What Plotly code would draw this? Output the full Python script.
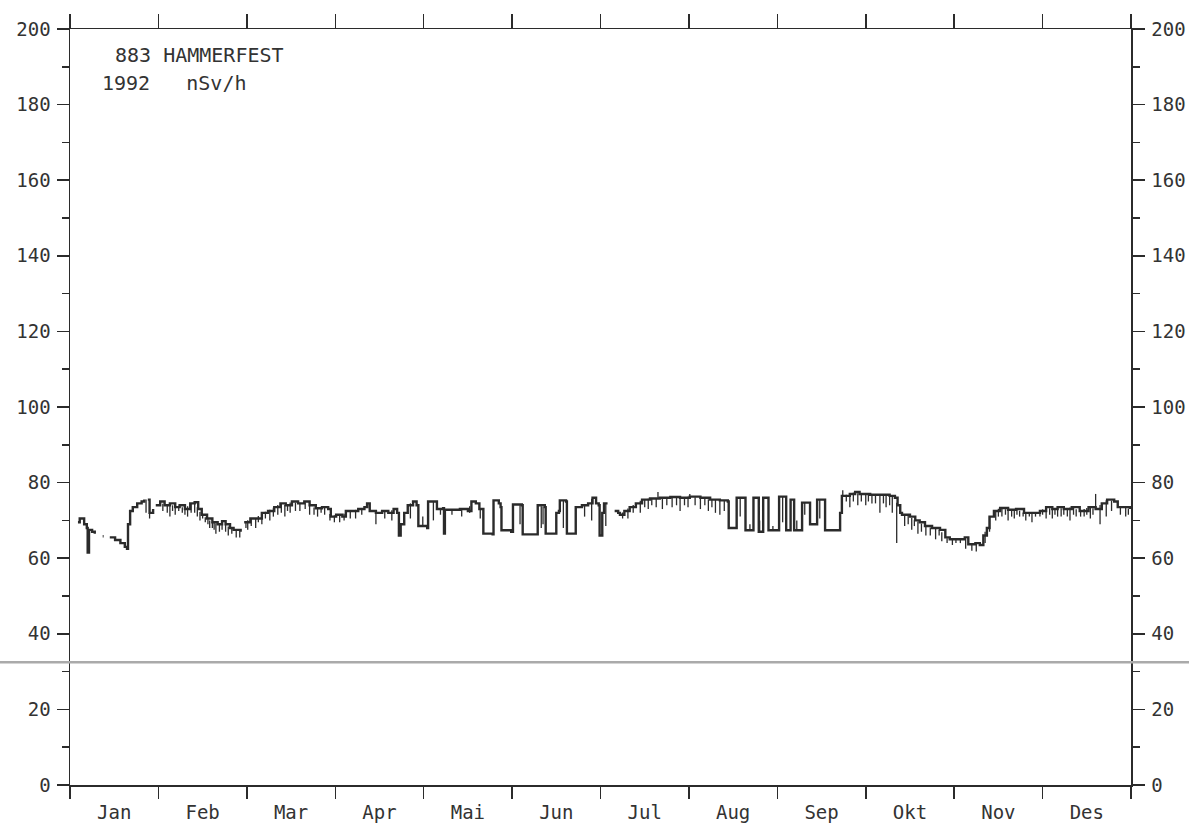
import numpy as np
import plotly.graph_objects as go

# ---- data (x = months since 1 Jan, y = nSv/h) ----
months = ["Jan", "Feb", "Mar", "Apr", "Mai", "Jun", "Jul", "Aug", "Sep", "Okt", "Nov", "Des"]

t_main = [0.09, 0.11, 0.16, 0.19, 0.20, 0.215, 0.25, 0.28, None, 0.37, 0.38, None,
          0.45, 0.51, 0.57, 0.62, 0.645, 0.656, 0.68, 0.71, 0.76, 0.81, 0.84, None,
          0.88, 0.90, 0.94, None, 0.97, 1.02, 1.07, 1.13, 1.19, 1.24, 1.30, 1.36, 1.41,
          1.45, 1.49, 1.55, 1.61, 1.67, 1.72, 1.76, 1.81, 1.85, 1.90, 1.93, None,
          1.97, 2.04, 2.10, 2.17, 2.24, 2.31, 2.38, 2.44, 2.51, 2.58, 2.65, 2.71, 2.78,
          2.85, 2.92, 2.95, 3.01, 3.08, 3.12, 3.19, 3.26, 3.33, 3.36, 3.39, 3.46, 3.53,
          3.60, 3.66, 3.70, 3.72, 3.74, 3.78, 3.82, 3.88, 3.92, 3.94, 4.04, 4.05, 4.14,
          4.15, 4.22, 4.23, 4.24, 4.32, 4.41, 4.50, 4.54, 4.59, 4.63, 4.67, 4.675, 4.78,
          4.79, 4.85, 4.87, 4.88, 4.99, 5.01, 5.11, 5.12, 5.28, 5.29, 5.37, 5.38, 5.49,
          5.50, 5.53, 5.54, 5.61, 5.62, 5.71, 5.72, 5.79, 5.86, 5.91, 5.95, 5.98, 5.99,
          6.02, 6.04, 6.08, None, 6.16, 6.20, 6.22, 6.27, 6.33, 6.40, 6.47, 6.56, 6.67,
          6.79, 6.90, 7.01, 7.13, 7.24, 7.35, 7.44, 7.45, 7.53, 7.54, 7.63, 7.64, 7.72,
          7.73, 7.78, 7.79, 7.83, 7.84, 7.89, 7.90, 8.00, 8.02, 8.09, 8.10, 8.14, 8.15,
          8.18, 8.19, 8.27, 8.28, 8.36, 8.37, 8.44, 8.45, 8.53, 8.54, 8.69, 8.71, 8.73,
          8.82, 8.88, 8.93, 9.05, 9.16, 9.27, 9.33, 9.36, 9.39, 9.41, 9.46, 9.50, 9.56,
          9.61, 9.67, 9.75, 9.84, 9.90, 9.95, 10.04, 10.12, 10.16, 10.24, 10.29, 10.33,
          10.37, 10.40, 10.45, 10.52, 10.61, 10.70, 10.79, 10.88, 10.97, 11.04, 11.11,
          11.17, 11.24, 11.33, 11.42, 11.52, 11.60, 11.67, 11.73, 11.81, 11.85, 11.92, 11.99]

v_main = [69.5, 70.5, 69.0, 68.0, 61.5, 67.5, 67.0, 66.5, None, 65.8, 65.8, None,
          65.5, 64.8, 64.0, 63.0, 62.5, 69.0, 72.5, 73.5, 74.5, 75.0, 75.5, None,
          75.5, 72.0, 73.0, None, 74.0, 75.0, 74.0, 74.5, 73.5, 74.0, 73.0, 74.5, 74.8,
          73.0, 71.5, 70.5, 69.5, 69.0, 69.8, 69.0, 68.0, 67.5, 67.5, 67.0, None,
          69.5, 70.5, 70.5, 72.0, 72.5, 73.5, 74.5, 74.0, 75.0, 74.5, 75.0, 74.0, 73.2,
          73.5, 73.0, 71.0, 71.5, 71.0, 72.5, 72.5, 73.0, 73.5, 74.5, 72.5, 72.0, 72.5,
          72.0, 73.0, 72.0, 66.0, 69.0, 72.0, 74.0, 75.0, 74.0, 68.5, 68.0, 75.0, 75.0,
          73.0, 73.2, 66.5, 72.8, 72.8, 73.0, 72.5, 75.0, 74.5, 73.0, 73.0, 66.5, 66.3,
          75.3, 74.5, 73.5, 67.4, 67.0, 74.2, 74.0, 66.3, 66.3, 74.0, 73.5, 66.5, 66.5,
          72.0, 72.5, 75.3, 75.0, 66.5, 66.5, 73.5, 74.0, 74.5, 76.0, 74.5, 74.0, 66.0,
          72.0, 74.5, 74.5, None, 72.5, 72.0, 71.5, 72.5, 73.5, 74.5, 75.5, 75.8, 76.0,
          76.2, 76.0, 76.3, 76.0, 75.5, 75.3, 75.0, 68.0, 68.0, 76.0, 76.0, 67.4, 67.4,
          76.0, 76.0, 67.0, 67.0, 76.0, 76.0, 67.4, 67.4, 76.3, 76.3, 67.4, 67.4, 75.5,
          75.5, 67.4, 67.4, 74.7, 74.7, 69.0, 69.0, 75.5, 75.5, 67.4, 67.4, 72.0, 76.5,
          77.0, 77.5, 77.0, 76.8, 76.8, 76.5, 76.0, 74.0, 72.0, 71.5, 71.5, 71.0, 70.0,
          69.5, 68.5, 68.0, 67.5, 65.5, 65.0, 65.0, 65.5, 63.7, 64.0, 63.5, 66.0,
          68.0, 71.0, 72.5, 73.3, 72.8, 73.0, 72.0, 72.0, 72.5, 73.5, 73.0,
          73.5, 73.0, 73.5, 72.5, 73.5, 73.0, 74.5, 75.5, 75.0, 73.5, 73.5, 73.0]

# short hourly excursions (position, extreme value reached)
spike_t = [0.86, 0.90, 1.05, 1.10, 1.13, 1.16, 1.19, 1.23, 1.27, 1.30, 1.33, 1.37, 1.41,
           1.44, 1.47, 1.50, 1.53, 1.56, 1.58, 1.61, 1.63, 1.65, 1.69, 1.72, 1.76, 1.79,
           1.83, 1.88, 1.92, 1.99, 2.01, 2.05, 2.10, 2.13, 2.17, 2.21, 2.26, 2.30, 2.35,
           2.39, 2.43, 2.46, 2.49, 2.55, 2.60, 2.66, 2.71, 2.76, 2.80, 2.84, 2.88, 2.94,
           2.99, 3.05, 3.10, 3.17, 3.23, 3.30, 3.46, 3.56, 3.64, 3.85, 3.99, 4.11, 4.19,
           4.32, 4.43, 4.52, 4.64, 5.09, 5.33, 5.35, 5.58, 5.82, 5.90, 6.06, 6.25, 6.31,
           6.37, 6.45, 6.50, 6.54, 6.58, 6.63, 6.65, 6.70, 6.75, 6.81, 6.86, 6.90, 6.95,
           6.99, 7.01, 7.07, 7.13, 7.18, 7.22, 7.26, 7.30, 7.35, 7.40, 7.58, 7.69, 7.80,
           7.95, 8.06, 8.22, 8.31, 8.48, 8.74, 8.78, 8.82, 8.86, 8.91, 8.95, 9.00, 9.03,
           9.07, 9.11, 9.16, 9.20, 9.23, 9.27, 9.30, 9.35, 9.44, 9.48, 9.52, 9.55, 9.59,
           9.63, 9.68, 9.73, 9.79, 9.83, 9.86, 9.92, 9.98, 10.02, 10.07, 10.13, 10.20,
           10.25, 10.35, 10.40, 10.47, 10.50, 10.54, 10.58, 10.61, 10.65, 10.68, 10.71,
           10.74, 10.78, 10.81, 10.85, 10.88, 10.92, 10.97, 11.00, 11.04, 11.08, 11.11,
           11.14, 11.17, 11.21, 11.24, 11.28, 11.31, 11.35, 11.38, 11.43, 11.47, 11.50,
           11.54, 11.57, 11.60, 11.65, 11.72, 11.78, 11.88, 11.94, 11.97]
spike_v = [72.0, 70.5, 72.5, 72.0, 71.0, 72.5, 71.5, 72.5, 72.0, 71.5, 71.0, 72.0, 72.0,
           71.0, 70.0, 70.5, 69.5, 69.0, 68.0, 68.0, 67.5, 66.5, 67.0, 67.5, 67.0, 66.0,
           66.5, 65.5, 65.5, 68.0, 67.5, 68.5, 68.0, 69.5, 69.0, 70.5, 70.0, 71.0, 71.5,
           72.0, 71.0, 72.5, 72.0, 72.5, 72.5, 73.0, 71.5, 71.5, 71.0, 72.0, 71.5, 70.0,
           69.5, 69.5, 70.0, 70.5, 70.5, 71.5, 69.0, 70.5, 70.0, 70.5, 71.0, 70.0, 71.5,
           71.5, 71.0, 72.0, 70.5, 69.0, 68.0, 69.0, 68.0, 71.0, 70.0, 68.5, 70.5, 70.5,
           72.0, 72.0, 73.5, 73.0, 74.0, 73.5, 77.5, 73.0, 74.0, 73.5, 74.0, 72.5, 74.0,
           73.5, 77.0, 74.0, 73.0, 74.0, 72.5, 73.5, 72.0, 71.5, 72.5, 71.0, 69.0, 70.0,
           68.5, 69.5, 70.0, 71.5, 70.5, 78.0, 75.0, 73.5, 75.0, 74.0, 75.0, 74.0, 75.0,
           74.5, 74.5, 72.0, 74.5, 73.5, 74.0, 72.0, 64.0, 68.5, 69.0, 67.5, 68.5, 66.5,
           67.0, 66.0, 66.0, 65.0, 66.0, 64.5, 64.0, 63.5, 64.0, 64.0, 62.5, 62.0,
           61.8, 64.0, 67.0, 70.0, 71.0, 71.0, 71.5, 70.0, 71.0, 70.5, 71.5,
           71.0, 71.0, 70.0, 71.0, 69.5, 71.0, 71.0, 71.5, 70.5, 71.5, 70.5,
           71.5, 71.0, 71.0, 71.5, 71.0, 70.0, 71.5, 71.0, 71.0, 71.0, 71.5,
           70.5, 71.5, 77.0, 69.0, 71.0, 72.5, 71.5, 71.0, 71.5]

ref_level = 32.5  # grey horizontal rule across the sheet

# ---- build traces ----
tm = np.array([np.nan if a is None else a for a in t_main], dtype=float)
vm = np.array([np.nan if a is None else a for a in v_main], dtype=float)
ok = np.isfinite(tm) & np.isfinite(vm)
base_at_spike = np.interp(spike_t, tm[ok], vm[ok])
sx, sy = [], []
for t, b, v in zip(spike_t, base_at_spike, spike_v):
    sx += [t, t, None]
    sy += [b, v, None]

ink = "#2b2b2b"
txt = "#333333"
FF = "DejaVu Sans Mono"
fig = go.Figure()
fig.add_trace(go.Scatter(x=t_main, y=v_main, mode="lines", connectgaps=False,
                         line=dict(color=ink, width=2.4, shape="hv"), hoverinfo="skip",
                         showlegend=False))
fig.add_trace(go.Scatter(x=sx, y=sy, mode="lines",
                         line=dict(color=ink, width=1.3), hoverinfo="skip", showlegend=False))
# invisible trace to activate right/top axes
fig.add_trace(go.Scatter(x=[0, 12], y=[0, 200], mode="markers", marker=dict(opacity=0),
                         xaxis="x2", yaxis="y2", hoverinfo="skip", showlegend=False))

centers = [i + 0.5 for i in range(12)]
yt = list(range(0, 201, 20))
tickfont = dict(family=FF, size=19, color=txt)

fig.update_layout(
    width=1189, height=828,
    margin=dict(l=70, r=58, t=29, b=43, autoexpand=False),
    paper_bgcolor="white", plot_bgcolor="white",
    font=dict(family=FF, size=19, color=txt),
    xaxis=dict(range=[0, 12], tickvals=centers, ticktext=months, ticks="outside", ticklen=0,
               showgrid=False, zeroline=False, showline=True, linecolor=ink, linewidth=1.5,
               tickfont=tickfont, automargin=False,
               minor=dict(tick0=0, dtick=1, ticks="outside", ticklen=12, tickcolor=ink,
                          tickwidth=1.5, showgrid=False),
               ticklabelstandoff=10),
    xaxis2=dict(range=[0, 12], overlaying="x", side="top", tickvals=list(range(13)),
                showticklabels=False, ticks="outside", ticklen=14, tickcolor=ink, tickwidth=1.5,
                showgrid=False, zeroline=False, showline=True, linecolor=ink, linewidth=1.5,
                automargin=False),
    yaxis=dict(range=[0, 200], tickvals=yt, ticks="outside", ticklen=12, tickcolor=ink,
               tickwidth=1.5, showgrid=False, zeroline=False, showline=True, linecolor=ink,
               linewidth=1.5, automargin=False,
               minor=dict(tick0=0, dtick=10, ticks="outside", ticklen=7, tickcolor=ink,
                          tickwidth=1.5, showgrid=False),
               tickfont=tickfont, ticklabelstandoff=2),
    yaxis2=dict(range=[0, 200], overlaying="y", side="right", tickvals=yt, ticks="outside",
                ticklen=12, tickcolor=ink, tickwidth=1.5, showgrid=False, zeroline=False,
                showline=True, linecolor=ink, linewidth=1.5, automargin=False,
                minor=dict(tick0=0, dtick=10, ticks="outside", ticklen=7, tickcolor=ink,
                           tickwidth=1.5, showgrid=False),
                tickfont=tickfont, ticklabelstandoff=3),
    shapes=[dict(type="line", xref="paper", yref="y", x0=-70 / 1061, x1=1119 / 1061,
                 y0=ref_level, y1=ref_level, line=dict(color="#aaaaaa", width=2.5))],
    annotations=[
        dict(text="883 HAMMERFEST", xref="paper", yref="paper", x=0.0405, y=0.9656,
             xanchor="left", yanchor="middle", showarrow=False,
             font=dict(family=FF, size=20, color=txt)),
        dict(text="1992&nbsp;&nbsp;&nbsp;nSv/h", xref="paper", yref="paper", x=0.0283, y=0.9286,
             xanchor="left", yanchor="middle", showarrow=False,
             font=dict(family=FF, size=20, color=txt)),
    ],
)

# remove the browser's default 8px page margin so the figure fills the window exactly
fig.write_html("out.html", config={"displayModeBar": False, "staticPlot": True},
               post_script="document.body.style.margin='0';document.body.style.overflow='hidden';")
